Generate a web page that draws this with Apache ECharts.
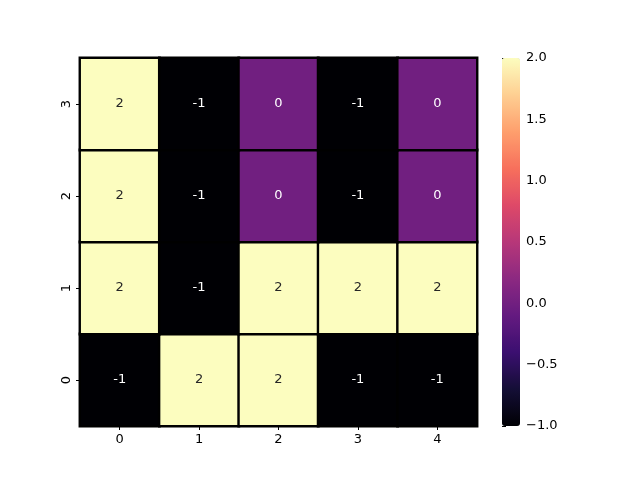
<!DOCTYPE html>
<html><head><meta charset="utf-8">
<script src="https://cdn.jsdelivr.net/npm/echarts@6/dist/echarts.min.js"></script>
<style>html,body{margin:0;padding:0;background:#fff}#c{width:640px;height:480px}</style>
</head><body><div id="c"></div>
<script>
const xLabels = ['0','1','2','3','4'];
const yLabels = ['0','1','2','3'];
// rows from y=0 (bottom) to y=3 (top)
const row0 = [-1, 2, 2, -1, -1];
const row1 = [2, -1, 2, 2, 2];
const row2 = [2, -1, 0, -1, 0];
const row3 = [2, -1, 0, -1, 0];
const rows = [row0, row1, row2, row3];
const vMin = -1, vMax = 2;
const magma = ['#000004','#140e36','#3b0f70','#641a80','#8c2981','#b73779','#de4968','#f7705c','#fe9f6d','#fecf92','#fcfdbf'];

const data = [];
rows.forEach((r, yi) => r.forEach((v, xi) => data.push([xi, yi, v])));

const font = 'DejaVu Sans';
const chart = echarts.init(document.getElementById('c'), null, {renderer: 'canvas'});
chart.setOption({
  animation: false,
  backgroundColor: '#fff',
  textStyle: {fontFamily: font},
  grid: [
    {left: 80, top: 58, width: 397, height: 368},
    {left: 502, top: 58, width: 18, height: 368}
  ],
  xAxis: [
    {type: 'category', data: xLabels, gridIndex: 0,
     axisLine: {show: false},
     axisTick: {show: true, alignWithLabel: true, length: 4, lineStyle: {color: '#000'}},
     axisLabel: {color: '#000', fontSize: 13, fontFamily: font, margin: 7},
     splitLine: {show: false}},
    {type: 'value', gridIndex: 1, show: false, min: 0, max: 1}
  ],
  yAxis: [
    {type: 'category', data: yLabels, gridIndex: 0,
     axisLine: {show: false},
     axisTick: {show: true, alignWithLabel: true, length: 4, lineStyle: {color: '#000'}},
     axisLabel: {color: '#000', fontSize: 13, fontFamily: font, rotate: 90, margin: 7},
     splitLine: {show: false}},
    {type: 'value', gridIndex: 1, position: 'right', min: vMin, max: vMax, interval: 0.5,
     axisLine: {show: false},
     axisTick: {show: true, length: 4, lineStyle: {color: '#000'}},
     axisLabel: {color: '#000', fontSize: 13, fontFamily: font, margin: 6,
       formatter: v => (v < 0 ? '\u2212' : '') + Math.abs(v).toFixed(1)},
     splitLine: {show: false}}
  ],
  visualMap: {
    type: 'continuous', min: vMin, max: vMax, calculable: false,
    orient: 'vertical', left: 502, top: 58, padding: 0,
    itemWidth: 18, itemHeight: 368, text: null, showLabel: false,
    inRange: {color: magma}, seriesIndex: 0, hoverLink: false
  },
  series: [
    {type: 'heatmap', xAxisIndex: 0, yAxisIndex: 0, data: data,
     itemStyle: {borderColor: '#000', borderWidth: 2.4},
     label: {show: true, fontFamily: font, fontSize: 13,
       formatter: p => (p.value[2] > 0.5 ? '{d|' : '{l|') + p.value[2] + '}',
       rich: {d: {color: '#262626', fontSize: 13, fontFamily: font},
              l: {color: '#fff', fontSize: 13, fontFamily: font}}},
     emphasis: {disabled: true}},
    {type: 'scatter', xAxisIndex: 1, yAxisIndex: 1, data: [], silent: true}
  ]
});
</script></body></html>
